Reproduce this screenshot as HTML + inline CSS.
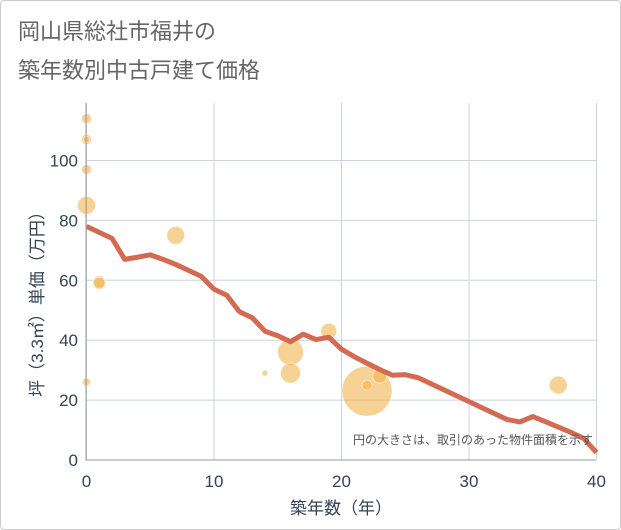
<!DOCTYPE html>
<html><head><meta charset="utf-8"><style>
body{margin:0;background:#fff;}
.frame{position:absolute;left:0;top:0;width:619px;height:528px;border:1px solid #ccc;border-radius:4px;}
text{font-family:"Liberation Sans","Noto Sans CJK JP",sans-serif;}
</style></head><body>
<div class="frame"></div>
<svg width="621" height="530" style="position:absolute;left:0;top:0">
<text x="18" y="39" font-size="22" fill="#666">岡山県総社市福井の</text>
<text x="18" y="78" font-size="22" fill="#666">築年数別中古戸建て価格</text>
<g id="grid"></g><g id="bubbles"></g><g id="line"></g><g id="axes"></g>
<text x="593" y="444" font-size="12" fill="#555" text-anchor="end">円の大きさは、取引のあった物件面積を示す</text>
<text x="341" y="514" font-size="17" fill="#345" text-anchor="middle">築年数（年）</text>
<text transform="translate(43,300) rotate(-90)" font-size="17" fill="#345" text-anchor="middle">坪（3.3㎡）単価（万円）</text>
</svg>
<script>
const xTicks=[0,10,20,30,40];
const yTicks=[0,20,40,60,80,100];
const lineYears=[0,1,2,3,4,5,6,7,8,9,10,11,12,13,14,15,16,17,18,19,20,21,22,23,24,25,26,27,28,29,30,31,32,33,34,35,36,37,38,39,40];
const linePrices=[78,76,74,67,67.7,68.5,67,65.3,63.3,61.3,57,55,49.5,47.5,43,41.5,39.5,42,40.2,41,37,34.5,32.3,30.2,28.3,28.5,27.5,25.5,23.5,21.5,19.5,17.5,15.5,13.5,12.7,14.5,12.8,11,9.2,7.2,2.5];
const bubbleYears=[0,0,0,0,0,7,1,1,16,16,14,19,22,22,23,37,0];
const bubblePrices=[114,107,107,97,85,75,59.5,59,36,29,29,43,23,25,28,25,26];
const bubbleRadii=[5,5,3,5,9,9,6,6,13,10,3,8,25,5,7,9,4];
const X=v=>86.5+v*12.75, Y=v=>460-v*2.995;
const ns="http://www.w3.org/2000/svg";
function mk(t,a,p){const e=document.createElementNS(ns,t);for(const k in a)e.setAttribute(k,a[k]);document.getElementById(p).appendChild(e);return e;}
xTicks.forEach(t=>{const l=mk('line',{x1:X(t),x2:X(t),y1:103,y2:460,stroke:'#c8d4e0'},'grid');


const tx=mk('text',{x:X(t),y:487,'font-size':17,fill:'#345','text-anchor':'middle'},'axes');tx.textContent=t;

});
yTicks.forEach(t=>{const l=mk('line',{x1:86,x2:596,y1:Y(t),y2:Y(t),stroke:'#c8d4e0'},'grid');


const tx=mk('text',{x:78,y:Y(t)+6,'font-size':17,fill:'#345','text-anchor':'end'},'axes');tx.textContent=t;

});
const ax=mk('path',{d:'M86 103V460H596',fill:'none',stroke:'#999'},'axes');


bubbleYears.forEach((v,i)=>{const c=mk('circle',{cx:X(v),cy:Y(bubblePrices[i]),r:bubbleRadii[i],fill:'#f2b44e','fill-opacity':0.6,stroke:'#fff','stroke-opacity':0.5},'bubbles');

});
const p=mk('polyline',{points:lineYears.map((v,i)=>X(v)+','+Y(linePrices[i])).join(' '),fill:'none',stroke:'#d46a52','stroke-width':5,'stroke-linejoin':'round'},'line');


</script>
</body></html>
